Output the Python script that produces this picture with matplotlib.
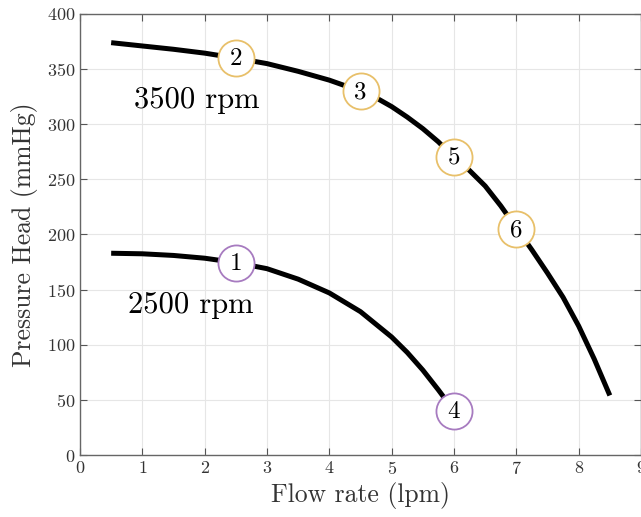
import numpy as np
import matplotlib
import matplotlib.pyplot as plt

matplotlib.rcParams['font.family'] = 'cmr10'
matplotlib.rcParams['mathtext.fontset'] = 'cm'
matplotlib.rcParams['axes.formatter.use_mathtext'] = True

# 3500 rpm curve
flow_3500 = [0.5, 1.0, 1.5, 2.0, 2.5, 3.0, 3.5, 4.0, 4.5, 4.75, 5.0, 5.25, 5.5, 5.75, 6.0,
             6.25, 6.5, 6.75, 7.0, 7.25, 7.5, 7.75, 8.0, 8.25, 8.5]
head_3500 = [374, 371, 368, 364.5, 360, 355, 348, 340, 330, 324, 316, 306.5, 296, 284, 270,
             258, 244, 226, 206, 186, 165, 143, 117, 87, 54]

# 2500 rpm curve
flow_2500 = [0.5, 1.0, 1.5, 2.0, 2.5, 3.0, 3.5, 4.0, 4.5, 5.0, 5.25, 5.5, 5.75, 6.0]
head_2500 = [183, 182.5, 181, 178.5, 174.5, 169, 159.5, 147, 130, 107, 93, 77, 59, 40]

# operating points
pt_labels = ['1', '2', '3', '4', '5', '6']
pt_flow = [2.5, 2.5, 4.5, 6.0, 6.0, 7.0]
pt_head = [174, 360, 330, 40, 270, 205]
pt_speed = [2500, 3500, 3500, 2500, 3500, 3500]

colors = {2500: '#A77BC0', 3500: '#E8C06A'}

fig = plt.figure(figsize=(6.41, 5.17), dpi=100)
ax = fig.add_axes([80 / 641, 62 / 517, 561 / 641, 441 / 517])

ax.plot(flow_3500, head_3500, color='black', lw=3.6, solid_capstyle='butt',
        solid_joinstyle='round', zorder=3)
ax.plot(flow_2500, head_2500, color='black', lw=3.6, solid_capstyle='butt',
        solid_joinstyle='round', zorder=3)

for lab, q, h, s in zip(pt_labels, pt_flow, pt_head, pt_speed):
    ax.plot(q, h, 'o', ms=26, mfc='white', mec=colors[s], mew=1.3, zorder=4)
    ax.text(q, h - 1, lab, ha='center', va='center', fontsize=18, zorder=5)

ax.text(1.88, 322, '3500 rpm', ha='center', va='center', fontsize=22)
ax.text(1.77, 136, '2500 rpm', ha='center', va='center', fontsize=22)

ax.set_xlim((0, 9))
ax.set_ylim((0, 400))
ax.set_xticks(range(0, 10))
ax.set_yticks(range(0, 401, 50))
ax.grid(True, color='#e6e6e6', lw=0.8)
ax.set_axisbelow(True)
ax.tick_params(direction='in', top=True, right=True, length=5, colors='#555555',
               labelcolor='#333333', labelsize=13)
for spine in ax.spines.values():
    spine.set_color('#666666')
    spine.set_linewidth(1.0)

ax.set_xlabel('Flow rate (lpm)', fontsize=18.5, color='#333333', labelpad=4)
ax.set_ylabel('Pressure Head (mmHg)', fontsize=18.5, color='#333333', labelpad=6)

plt.savefig('out.png', dpi=100)
plt.close()
